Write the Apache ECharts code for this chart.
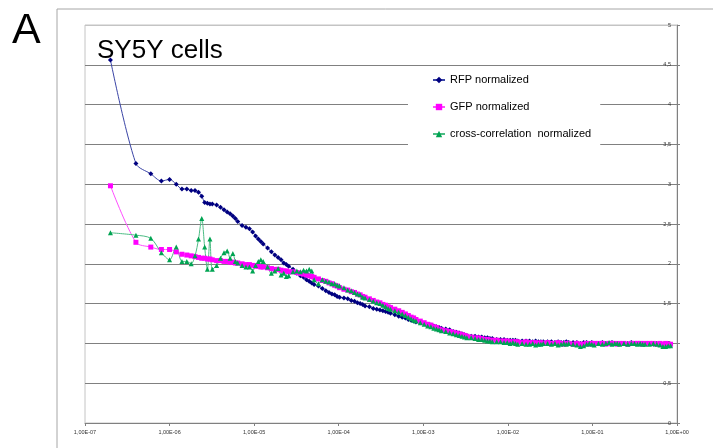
<!DOCTYPE html>
<html>
<head>
<meta charset="utf-8">
<title>SY5Y cells</title>
<script src="https://cdn.jsdelivr.net/npm/echarts@6/dist/echarts.min.js"></script>
<style>
  html, body { margin: 0; padding: 0; background: #fff; }
  #chart { width: 713px; height: 448px; }
</style>
</head>
<body>
<div id="chart"></div>
<script>
// lag times in microseconds (multi-tau correlator channels)
const tauUs = [
  0.2, 0.4, 0.6, 0.8, 1.0, 1.2, 1.4, 1.6, 1.8, 2.0, 2.2, 2.4, 2.6, 2.8, 3.0, 3.2,
  3.6, 4.0, 4.4, 4.8, 5.2, 5.6, 6.0, 6.4,
  7.2, 8.0, 8.8, 9.6, 10.4, 11.2, 12.0, 12.8,
  14.4, 16, 17.6, 19.2, 20.8, 22.4, 24, 25.6,
  28.8, 32, 35.2, 38.4, 41.6, 44.8, 48, 51.2,
  57.6, 64, 70.4, 76.8, 83.2, 89.6, 96, 102.4,
  115.2, 128, 140.8, 153.6, 166.4, 179.2, 192, 204.8,
  230.4, 256, 281.6, 307.2, 332.8, 358.4, 384, 409.6,
  460.8, 512, 563.2, 614.4, 665.6, 716.8, 768, 819.2,
  921.6, 1024, 1126.4, 1228.8, 1331.2, 1433.6, 1536, 1638.4,
  1843, 2048, 2253, 2458, 2662, 2867, 3072, 3277,
  3686, 4096, 4506, 4915, 5325, 5734, 6144, 6554,
  7373, 8192, 9011, 9830, 10650, 11469, 12288, 13107,
  14746, 16384, 18022, 19661, 21299, 22938, 24576, 26214,
  29491, 32768, 36045, 39322, 42598, 45875, 49152, 52429,
  58982, 65536, 72090, 78643, 85197, 91750, 98304, 104858,
  117965, 131072, 144179, 157286, 170394, 183501, 196608, 209715,
  235930, 262144, 288358, 314573, 340787, 367002, 393216, 419430,
  471859, 524288, 576717, 629146, 681574, 734003, 786432, 838861
];

const rfp = [
  4.56, 3.26, 3.13, 3.04, 3.06, 3.00, 2.94, 2.94, 2.92, 2.92, 2.90, 2.85, 2.77, 2.76, 2.75, 2.75,
  2.74, 2.71, 2.68, 2.65, 2.63, 2.60, 2.57, 2.53,
  2.48, 2.46, 2.44, 2.40, 2.35, 2.31, 2.28, 2.25,
  2.20, 2.15, 2.11, 2.08, 2.05, 2.01, 1.99, 1.97,
  1.93, 1.88, 1.85, 1.83, 1.80, 1.78, 1.76, 1.74,
  1.72, 1.69, 1.66, 1.64, 1.62, 1.61, 1.59, 1.58,
  1.57, 1.56, 1.54, 1.53, 1.51, 1.50, 1.49, 1.47,
  1.46, 1.44, 1.43, 1.42, 1.41, 1.40, 1.39, 1.38,
  1.36, 1.34, 1.33, 1.32, 1.30, 1.29, 1.28, 1.27,
  1.26, 1.25, 1.24, 1.23, 1.22, 1.21, 1.20, 1.19,
  1.18, 1.17, 1.15, 1.14, 1.13, 1.12, 1.11, 1.10,
  1.09, 1.09, 1.08, 1.08, 1.07, 1.07, 1.06, 1.06,
  1.05, 1.05, 1.05, 1.04, 1.04, 1.04, 1.04, 1.03,
  1.03, 1.03, 1.03, 1.02, 1.03, 1.02, 1.02, 1.02,
  1.02, 1.02, 1.01, 1.02, 1.01, 1.01, 1.02, 1.01,
  1.01, 1.01, 1.00, 1.01, 1.01, 1.00, 1.01, 1.00,
  1.00, 1.01, 1.00, 1.00, 1.01, 1.00, 1.00, 1.00,
  1.00, 1.00, 1.01, 1.00, 1.00, 0.99, 1.00, 1.00,
  1.00, 0.99, 1.00, 1.00, 0.99, 1.00, 1.00, 0.99
];

const gfp = [
  2.98, 2.27, 2.21, 2.18, 2.18, 2.15, 2.12, 2.11, 2.10, 2.09, 2.08, 2.07, 2.07, 2.06, 2.06, 2.05,
  2.04, 2.04, 2.03, 2.03, 2.02, 2.02, 2.01, 2.01,
  2.00, 1.99, 1.99, 1.98, 1.97, 1.97, 1.96, 1.96,
  1.95, 1.94, 1.93, 1.93, 1.92, 1.91, 1.91, 1.90,
  1.90, 1.89, 1.88, 1.87, 1.86, 1.85, 1.84, 1.83,
  1.81, 1.79, 1.78, 1.76, 1.75, 1.73, 1.72, 1.70,
  1.68, 1.67, 1.65, 1.64, 1.62, 1.61, 1.59, 1.58,
  1.56, 1.54, 1.52, 1.51, 1.49, 1.48, 1.46, 1.45,
  1.43, 1.41, 1.39, 1.37, 1.35, 1.33, 1.32, 1.30,
  1.28, 1.26, 1.24, 1.23, 1.21, 1.20, 1.18, 1.17,
  1.16, 1.15, 1.14, 1.13, 1.12, 1.11, 1.10, 1.09,
  1.08, 1.07, 1.07, 1.06, 1.05, 1.05, 1.04, 1.04,
  1.04, 1.03, 1.03, 1.03, 1.02, 1.02, 1.02, 1.02,
  1.01, 1.02, 1.01, 1.01, 1.01, 1.00, 1.01, 1.00,
  1.01, 1.00, 1.00, 1.01, 1.00, 0.99, 1.00, 1.00,
  0.99, 1.00, 0.99, 0.99, 1.00, 0.99, 1.00, 1.00,
  1.00, 1.00, 0.99, 1.00, 1.00, 1.00, 0.99, 1.00,
  1.00, 0.99, 1.00, 1.00, 1.00, 1.00, 0.99, 1.00,
  1.00, 1.00, 0.99, 1.00, 0.99, 1.00, 0.99, 0.99
];

const cross = [
  2.39, 2.36, 2.32, 2.14, 2.05, 2.21, 2.03, 2.03, 2.00, 2.10, 2.31, 2.57, 2.21, 1.93, 2.31, 1.93,
  1.98, 2.07, 2.14, 2.16, 2.07, 2.13, 2.03, 2.01,
  1.98, 1.96, 1.96, 1.91, 1.98, 2.03, 2.05, 2.03,
  1.96, 1.88, 1.91, 1.94, 1.86, 1.88, 1.84, 1.85,
  1.90, 1.91, 1.90, 1.92, 1.91, 1.93, 1.91, 1.80,
  1.75, 1.80, 1.78, 1.77, 1.75, 1.75, 1.73, 1.72,
  1.70, 1.67, 1.66, 1.64, 1.62, 1.61, 1.58, 1.57,
  1.55, 1.53, 1.51, 1.50, 1.48, 1.46, 1.44, 1.43,
  1.41, 1.39, 1.37, 1.35, 1.33, 1.31, 1.29, 1.28,
  1.26, 1.24, 1.22, 1.21, 1.19, 1.18, 1.17, 1.16,
  1.15, 1.13, 1.12, 1.11, 1.10, 1.09, 1.08, 1.07,
  1.07, 1.06, 1.05, 1.05, 1.04, 1.03, 1.03, 1.02,
  1.02, 1.02, 1.01, 1.01, 1.00, 1.01, 1.00, 0.99,
  1.00, 0.99, 0.99, 1.00, 0.98, 0.99, 0.99, 1.00,
  1.00, 0.99, 1.00, 0.98, 0.99, 1.00, 0.99, 1.00,
  0.99, 0.98, 0.96, 0.97, 0.99, 1.00, 0.99, 0.98,
  1.00, 0.99, 1.00, 1.01, 0.99, 1.00, 1.00, 0.99,
  1.00, 0.99, 1.00, 1.00, 0.99, 1.00, 0.99, 0.99,
  0.99, 1.00, 0.99, 0.98, 0.96, 0.96, 0.97, 0.97
];

const seriesNames = ['RFP normalized', 'GFP normalized', 'cross-correlation  normalized'];

function pairs(values) {
  return tauUs.map((t, i) => [t * 1e-6, values[i]]);
}

// Excel style labels: 1,00E-07 / 0,5
function expLabel(v) {
  const e = Math.round(Math.log10(v));
  return '1,00E' + (e < 0 ? '-' : '+') + String(Math.abs(e)).padStart(2, '0');
}

const myChart = echarts.init(document.getElementById('chart'));
myChart.setOption({
  animation: false,
  backgroundColor: '#fff',
  textStyle: { fontFamily: 'Liberation Sans, Arial, sans-serif' },
  graphic: [
    {
      type: 'rect',
      shape: { x: 57, y: 9, width: 800, height: 600 },
      style: { fill: null, stroke: '#a6a6a6', lineWidth: 1 },
      silent: true,
    },
    {
      type: 'text',
      left: 12,
      top: 10,
      style: { text: 'A', font: '43px "Liberation Sans", Arial, sans-serif', fill: '#000' },
    },
    {
      type: 'text',
      left: 97,
      top: 38,
      style: { text: 'SY5Y cells', font: '26px "Liberation Sans", Arial, sans-serif', fill: '#000' },
    },
  ],
  legend: {
    data: seriesNames,
    orient: 'vertical',
    left: 408,
    top: 67,
    padding: [6, 9, 12, 24],
    backgroundColor: '#fff',
    itemWidth: 12,
    itemHeight: 8,
    itemGap: 13,
    textStyle: { fontSize: 11, color: '#000', lineHeight: 14 },
  },
  grid: {
    left: 85,
    right: 36,
    top: 25,
    bottom: 25,
    show: true,
    borderColor: '#c4c4c4',
    borderWidth: 1,
  },
  xAxis: {
    type: 'log',
    logBase: 10,
    min: 1e-7,
    max: 1,
    axisLine: { lineStyle: { color: '#808080' } },
    axisTick: { length: 3, lineStyle: { color: '#808080' } },
    splitLine: { show: false },
    axisLabel: { fontSize: 5.5, color: '#333', margin: 6, formatter: expLabel },
  },
  yAxis: {
    type: 'value',
    position: 'right',
    min: 0,
    max: 5,
    interval: 0.5,
    axisLine: { show: true, lineStyle: { color: '#808080' } },
    axisTick: { show: true, length: 3, lineStyle: { color: '#808080' } },
    splitLine: {
      lineStyle: {
        color: ['#808080', '#808080', '#808080', '#808080', '#808080', '#808080',
          '#808080', '#808080', '#808080', '#808080', '#c4c4c4'],
      },
    },
    axisLabel: {
      inside: true,
      margin: 6,
      fontSize: 5.5,
      color: '#333',
      formatter: v => String(v).replace('.', ','),
    },
  },
  series: [
    {
      name: seriesNames[0],
      type: 'line',
      smooth: 0.3,
      symbol: 'diamond',
      symbolSize: 5,
      itemStyle: { color: '#000080' },
      lineStyle: { color: '#3b45a6', width: 1 },
      data: pairs(rfp),
    },
    {
      name: seriesNames[1],
      type: 'line',
      smooth: 0.3,
      symbol: 'rect',
      symbolSize: 5,
      itemStyle: { color: '#ff00ff' },
      lineStyle: { color: '#ff4dff', width: 1 },
      data: pairs(gfp),
    },
    {
      name: seriesNames[2],
      type: 'line',
      smooth: 0.3,
      symbol: 'triangle',
      symbolSize: 5,
      itemStyle: { color: '#00a452' },
      lineStyle: { color: '#4cbc84', width: 1 },
      data: pairs(cross),
    },
  ],
});
</script>
</body>
</html>
